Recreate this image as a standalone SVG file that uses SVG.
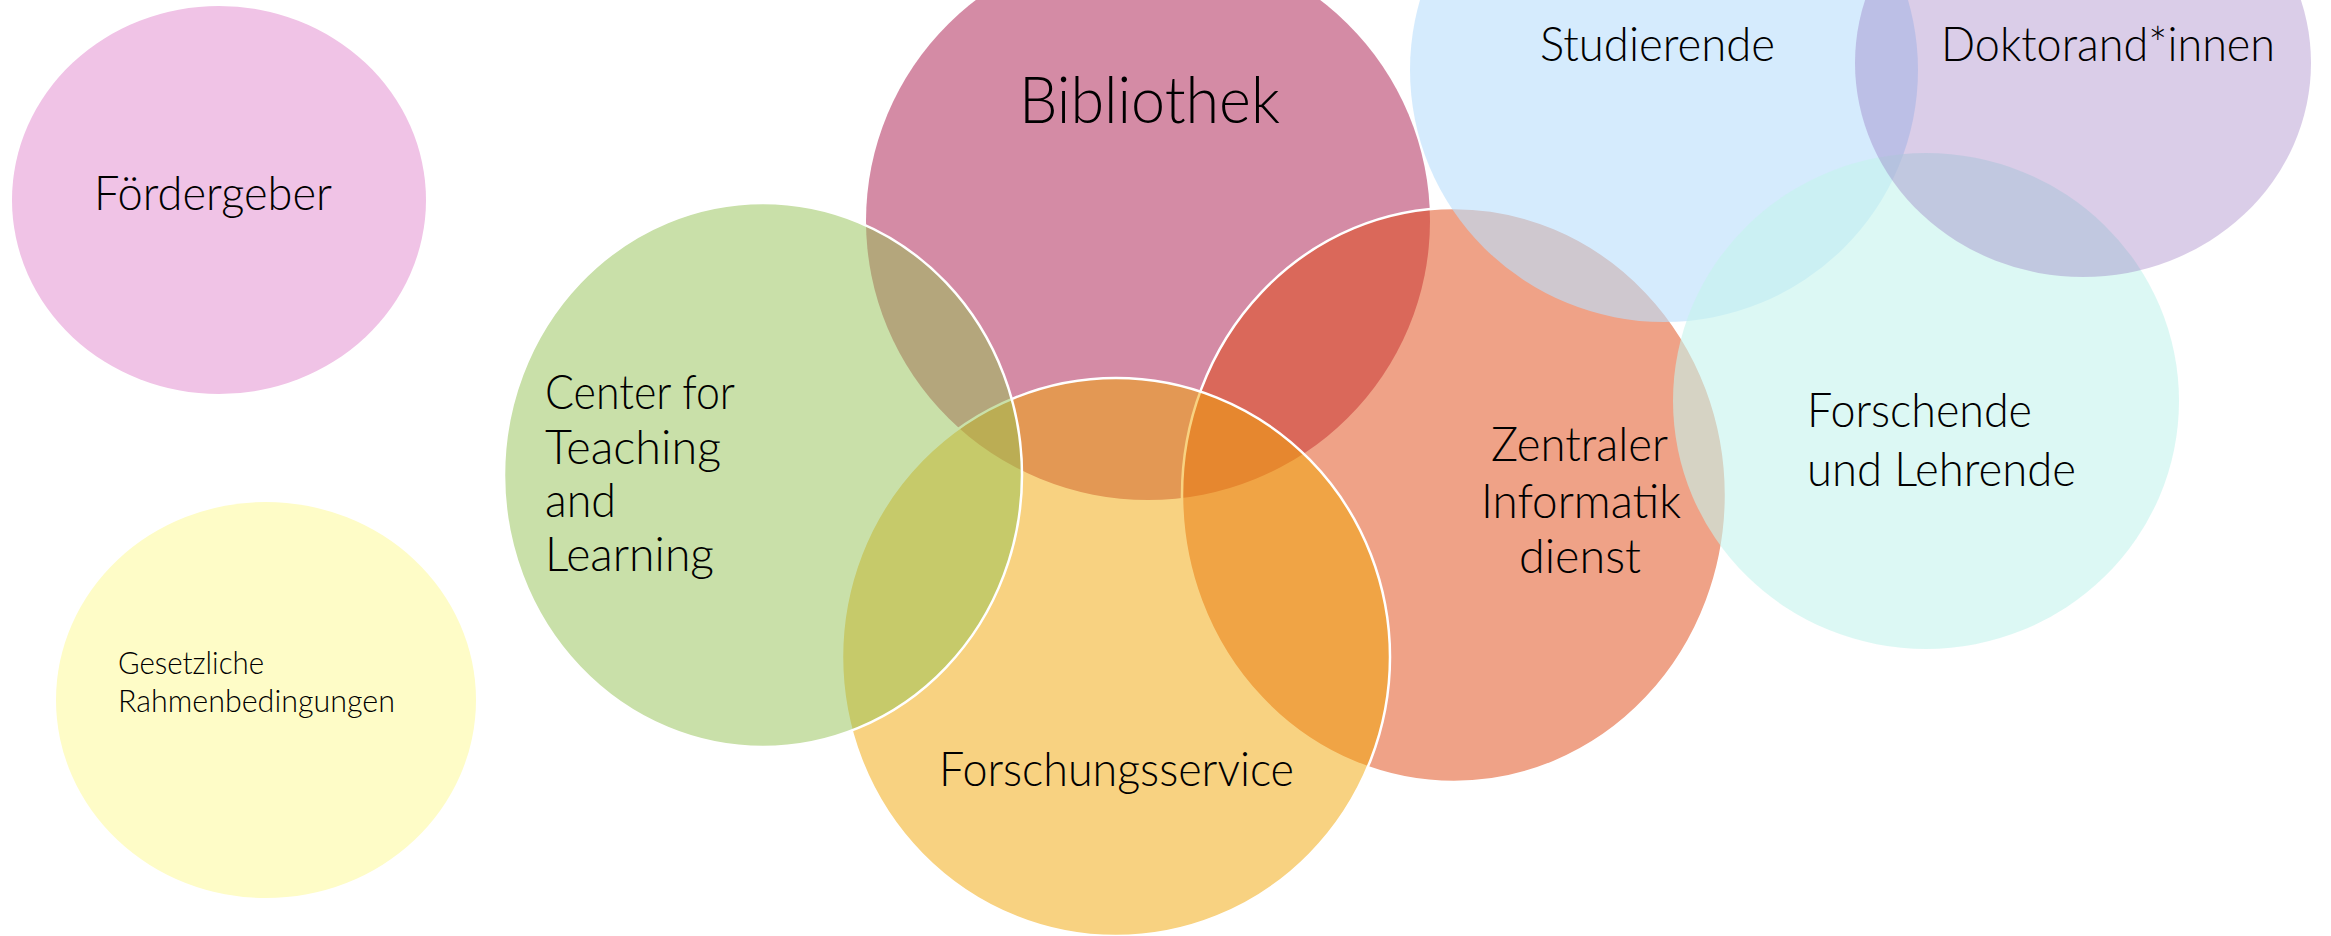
<svg xmlns="http://www.w3.org/2000/svg" width="2331" height="936" viewBox="0 0 2331 936">
<style>
text{font-family:Lato,"Open Sans","Liberation Sans",sans-serif;font-weight:300;fill:#000;font-size:48px}
.big{font-size:66px}
.small{font-size:31px}
.ws{stroke:#fff;stroke-width:2.5}
</style>
<rect x="0" y="0" width="2331" height="936" fill="#fff"/>
<g id="foerdergeber">
<ellipse cx="219" cy="200" rx="207" ry="194" fill="#F0C3E6"/>
<text x="94" y="210" textLength="238" lengthAdjust="spacingAndGlyphs">Fördergeber</text>
</g>
<g id="gesetzliche">
<ellipse cx="266" cy="700" rx="210" ry="198" fill="#FEFCC7"/>
<text class="small" x="118" y="674" textLength="146" lengthAdjust="spacingAndGlyphs">Gesetzliche</text>
<text class="small" x="118" y="712" textLength="277" lengthAdjust="spacingAndGlyphs">Rahmenbedingungen</text>
</g>
<g id="bibliothek">
<ellipse cx="1148" cy="221" rx="282" ry="279" fill="#D48BA5"/>
<text class="big" x="1019" y="123" textLength="261" lengthAdjust="spacingAndGlyphs">Bibliothek</text>
</g>
<g id="zid">
<ellipse class="ws" cx="1454" cy="495" rx="272" ry="287" fill="#DF450F" fill-opacity="0.5"/>
<text x="1491" y="461" textLength="177" lengthAdjust="spacingAndGlyphs">Zentraler</text>
<text x="1481" y="518" textLength="200" lengthAdjust="spacingAndGlyphs">Informatik</text>
<text x="1519" y="573" textLength="122" lengthAdjust="spacingAndGlyphs">dienst</text>
</g>
<g id="forschungsservice">
<ellipse class="ws" cx="1116" cy="657" rx="274" ry="279" fill="#F1A503" fill-opacity="0.5"/>
<text x="939" y="786" textLength="355" lengthAdjust="spacingAndGlyphs">Forschungsservice</text>
</g>
<g id="ctl">
<ellipse class="ws" cx="763" cy="475" rx="259" ry="272" fill="#93C153" fill-opacity="0.5"/>
<text x="545" y="409" textLength="190" lengthAdjust="spacingAndGlyphs">Center for</text>
<text x="545" y="464" textLength="176" lengthAdjust="spacingAndGlyphs">Teaching</text>
<text x="545" y="517" textLength="71" lengthAdjust="spacingAndGlyphs">and</text>
<text x="545" y="571" textLength="169" lengthAdjust="spacingAndGlyphs">Learning</text>
</g>
<g id="studierende">
<ellipse cx="1664" cy="70" rx="254" ry="252" fill="#BBDFFC" fill-opacity="0.62"/>
<text x="1540" y="61" textLength="235" lengthAdjust="spacingAndGlyphs">Studierende</text>
</g>
<g id="forschende">
<ellipse cx="1926" cy="401" rx="253" ry="248" fill="#C5F3ED" fill-opacity="0.6"/>
<text x="1807" y="427" textLength="225" lengthAdjust="spacingAndGlyphs">Forschende</text>
<text x="1807" y="486" textLength="269" lengthAdjust="spacingAndGlyphs">und Lehrende</text>
</g>
<g id="doktoranden">
<ellipse cx="2083" cy="63" rx="228" ry="214" fill="#8458B2" fill-opacity="0.3"/>
<text x="1941" y="61" textLength="334" lengthAdjust="spacingAndGlyphs">Doktorand*innen</text>
</g>
</svg>
